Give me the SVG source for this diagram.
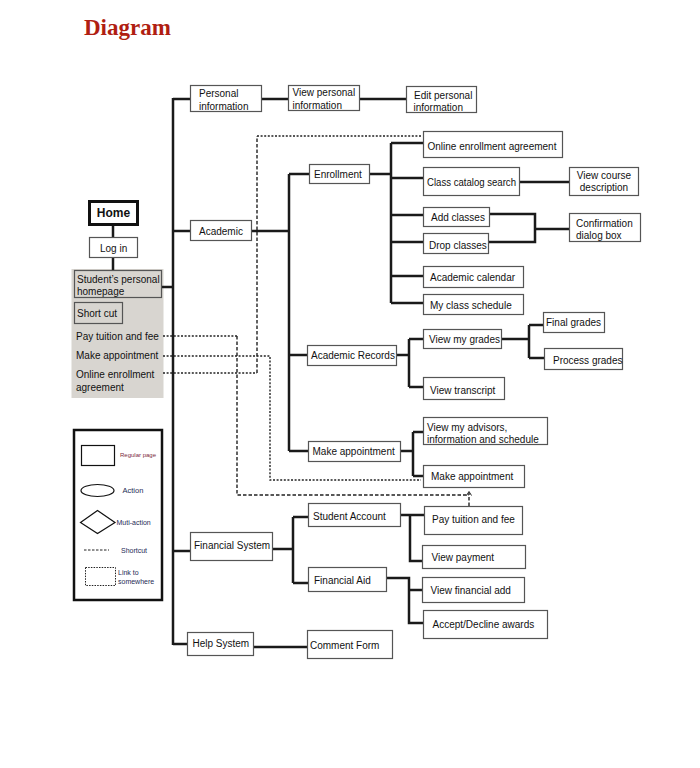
<svg xmlns="http://www.w3.org/2000/svg" width="700" height="768" viewBox="0 0 700 768">
<defs>
<style>
.t{font-family:"Liberation Sans",Arial,sans-serif;font-size:10px;fill:#111}
.b{fill:#fff;stroke:#555;stroke-width:1.2}
.c{fill:none;stroke:#1a1a1a;stroke-width:2.5}
.d{fill:none;stroke:#222;stroke-width:1.4;stroke-dasharray:2,1.6}
.dd{fill:none;stroke:#222;stroke-width:1.4;stroke-dasharray:3.5,2}
.lg{font-family:"Liberation Sans",Arial,sans-serif;fill:#1e2a55}
</style>
</defs>
<rect width="700" height="768" fill="#fff"/>
<text x="84" y="35" font-family="Liberation Serif,Times New Roman,serif" font-weight="bold" font-size="23" fill="#b01e12">Diagram</text>

<rect x="71.5" y="269" width="92" height="129" fill="#d8d5d0"/>

<g id="connectors">
<path class="c" d="M173,98 V645"/>
<path class="c" d="M173,99 H190 M261,99 H288 M359,99 H406"/>
<path class="c" d="M173,231 H190 M251,231 H289 M289,174 V451 M289,174 H309 M289,355 H307 M289,451 H308"/>
<path class="c" d="M369,174 H391 M391,143 V303 M391,143 H423 M391,178 H423 M391,215 H423 M391,242 H423 M391,276 H423 M391,303 H423"/>
<path class="c" d="M519,182 H569 M489,214 H535 V242 H488 M535,229 H569"/>
<path class="c" d="M396,355 H409 M409,339 V387 M409,339 H423 M409,387 H423 M501,339 H529 M529,325 V358 M529,325 H543 M529,358 H544"/>
<path class="c" d="M400,451 H413 M413,432 V476 M413,432 H423 M413,476 H423"/>
<path class="c" d="M113,224 V237 M113,257 V270 M161,287 H173"/>
<path class="c" d="M173,551 H190 M272,549 H293 M293,517 V583 M293,517 H308 M293,583 H308"/>
<path class="c" d="M400,515 H424 M410,515 V561 H422 M386,578 H409 V623 H423 M409,590 H422"/>
<path class="c" d="M173,644 H187 M253,647 H307"/>
<path class="d" d="M163,373 H257"/>
<path class="dd" d="M257,373 V136"/>
<path class="d" d="M257,136 H422"/>
<path class="d" d="M163,356 H270 V480 H421"/>
<path class="d" d="M163,336 H237"/>
<path class="dd" d="M237,336 V495 H469"/>
<path class="dd" d="M469,506 V493"/>
<path d="M466.5,495.5 L469,491.5 L471.5,495.5" fill="none" stroke="#222" stroke-width="1"/>
</g>

<g id="home"><rect x="89.5" y="201.5" width="48" height="23" fill="#fff" stroke="#111" stroke-width="3"/><text x="113.5" y="217" text-anchor="middle" font-family="Liberation Sans,Arial,sans-serif" font-weight="bold" font-size="12" fill="#111">Home</text></g>
<g id="login"><rect class="b" x="89.5" y="237.5" width="48" height="20"/><text class="t" x="100" y="252">Log in</text></g>
<g id="homepage"><rect fill="#d8d5d0" stroke="#555" stroke-width="1.2" x="74.5" y="270.5" width="87" height="27"/><text class="t" x="77" y="283">Student’s personal</text><text class="t" x="77" y="294.5">homepage</text></g>
<g id="shortcut"><rect fill="#d8d5d0" stroke="#555" stroke-width="1.2" x="74.5" y="302.5" width="48" height="21"/><text class="t" x="77" y="317">Short cut</text></g>
<g id="sc-pay"><text class="t" x="76" y="340">Pay tuition and fee</text></g>
<g id="sc-appt"><text class="t" x="76" y="359">Make appointment</text></g>
<g id="sc-enroll"><text class="t" x="76" y="377.5">Online enrollment</text><text class="t" x="76" y="391">agreement</text></g>

<g id="personal"><rect class="b" x="190.5" y="85.5" width="71" height="26"/><text class="t" x="199" y="97">Personal</text><text class="t" x="199" y="109.5">information</text></g>
<g id="viewpersonal"><rect class="b" x="288.5" y="85.5" width="71" height="25"/><text class="t" x="292.5" y="96">View personal</text><text class="t" x="292.5" y="108.5">information</text></g>
<g id="editpersonal"><rect class="b" x="406.5" y="86.5" width="70" height="26"/><text class="t" x="414" y="99">Edit personal</text><text class="t" x="413.5" y="111">information</text></g>

<g id="academic"><rect class="b" x="190.5" y="220.5" width="61" height="20"/><text class="t" x="199" y="235">Academic</text></g>
<g id="enrollment"><rect class="b" x="309.5" y="164.5" width="60" height="19"/><text class="t" x="314" y="178">Enrollment</text></g>
<g id="onlineenroll"><rect class="b" x="423.5" y="131.5" width="139" height="26"/><text class="t" x="427.5" y="150">Online enrollment agreement</text></g>
<g id="classcatalog"><rect class="b" x="423.5" y="167.5" width="96" height="28"/><text class="t" x="427" y="186" textLength="89" lengthAdjust="spacingAndGlyphs">Class catalog search</text></g>
<g id="viewcourse"><rect class="b" x="569.5" y="167.5" width="69" height="28"/><text class="t" x="604" y="179" text-anchor="middle">View course</text><text class="t" x="604" y="191" text-anchor="middle">description</text></g>
<g id="addclasses"><rect class="b" x="423.5" y="207.5" width="66" height="19"/><text class="t" x="431" y="221">Add classes</text></g>
<g id="dropclasses"><rect class="b" x="423.5" y="233.5" width="65" height="20"/><text class="t" x="429" y="248.5">Drop classes</text></g>
<g id="confirmation"><rect class="b" x="569.5" y="213.5" width="71" height="28"/><text class="t" x="576" y="227">Confirmation</text><text class="t" x="576" y="239">dialog box</text></g>
<g id="acadcalendar"><rect class="b" x="423.5" y="266.5" width="100" height="21"/><text class="t" x="430" y="281">Academic calendar</text></g>
<g id="myclass"><rect class="b" x="423.5" y="294.5" width="100" height="20"/><text class="t" x="430" y="308.5">My class schedule</text></g>

<g id="acadrecords"><rect class="b" x="307.5" y="345.5" width="89" height="20"/><text class="t" x="311" y="359">Academic Records</text></g>
<g id="viewgrades"><rect class="b" x="423.5" y="329.5" width="78" height="19"/><text class="t" x="429" y="343">View my grades</text></g>
<g id="finalgrades"><rect class="b" x="543.5" y="312.5" width="61" height="20"/><text class="t" x="546" y="325.5">Final grades</text></g>
<g id="processgrades"><rect class="b" x="544.5" y="348.5" width="78" height="21"/><text class="t" x="553" y="363.5">Process grades</text></g>
<g id="viewtranscript"><rect class="b" x="423.5" y="377.5" width="81" height="22"/><text class="t" x="430" y="394">View transcript</text></g>

<g id="makeappt1"><rect class="b" x="308.5" y="441.5" width="92" height="20"/><text class="t" x="312.5" y="454.5">Make appointment</text></g>
<g id="viewadvisors"><rect class="b" x="423.5" y="417.5" width="124" height="27"/><text class="t" x="427" y="431">View my advisors,</text><text class="t" x="427" y="442.5">information and schedule</text></g>
<g id="makeappt2"><rect class="b" x="423.5" y="465.5" width="101" height="22"/><text class="t" x="431" y="480">Make appointment</text></g>

<g id="financial"><rect class="b" x="190.5" y="532.5" width="82" height="28"/><text class="t" x="194" y="549">Financial System</text></g>
<g id="studentaccount"><rect class="b" x="308.5" y="503.5" width="92" height="23"/><text class="t" x="313" y="519.5">Student Account</text></g>
<g id="financialaid"><rect class="b" x="308.5" y="567.5" width="78" height="24"/><text class="t" x="314" y="584">Financial Aid</text></g>
<g id="paytuition"><rect class="b" x="424.5" y="506.5" width="98" height="28"/><text class="t" x="432" y="523">Pay tuition and fee</text></g>
<g id="viewpayment"><rect class="b" x="422.5" y="545.5" width="103" height="23"/><text class="t" x="431.5" y="561">View payment</text></g>
<g id="viewfinadd"><rect class="b" x="422.5" y="577.5" width="102" height="25"/><text class="t" x="430.5" y="594">View financial add</text></g>
<g id="acceptdecline"><rect class="b" x="423.5" y="610.5" width="124" height="28"/><text class="t" x="432.5" y="628">Accept/Decline awards</text></g>

<g id="helpsystem"><rect class="b" x="187.5" y="632.5" width="66" height="23"/><text class="t" x="192.5" y="647">Help System</text></g>
<g id="commentform"><rect class="b" x="307.5" y="630.5" width="85" height="28"/><text class="t" x="310" y="649">Comment Form</text></g>

<g id="legend">
<rect x="74" y="430" width="88" height="170" fill="#fff" stroke="#111" stroke-width="2.5"/>
<rect x="81.5" y="445.5" width="33" height="20" fill="none" stroke="#111" stroke-width="1.2"/>
<text class="lg" x="120" y="456.5" font-size="6" style="fill:#7a2a3c">Regular page</text>
<ellipse cx="97.5" cy="490.5" rx="16.5" ry="6" fill="none" stroke="#111" stroke-width="1.2"/>
<text class="lg" x="122.5" y="493" font-size="7.5">Action</text>
<path d="M80.5,522.5 L97.5,510.5 L115,522.5 L97.5,533.5 Z" fill="none" stroke="#111" stroke-width="1.2"/>
<text class="lg" x="116.5" y="524.5" font-size="7">Muti-action</text>
<path d="M84,550 H109" fill="none" stroke="#222" stroke-width="1" stroke-dasharray="2.5,1.5"/>
<text class="lg" x="121" y="552.5" font-size="7">Shortcut</text>
<rect x="85.5" y="567.5" width="30" height="18" fill="none" stroke="#222" stroke-width="1" stroke-dasharray="1.5,1.2"/>
<text class="lg" x="118" y="575" font-size="7">Link to</text>
<text class="lg" x="118" y="584" font-size="7">somewhere</text>
</g>
</svg>
